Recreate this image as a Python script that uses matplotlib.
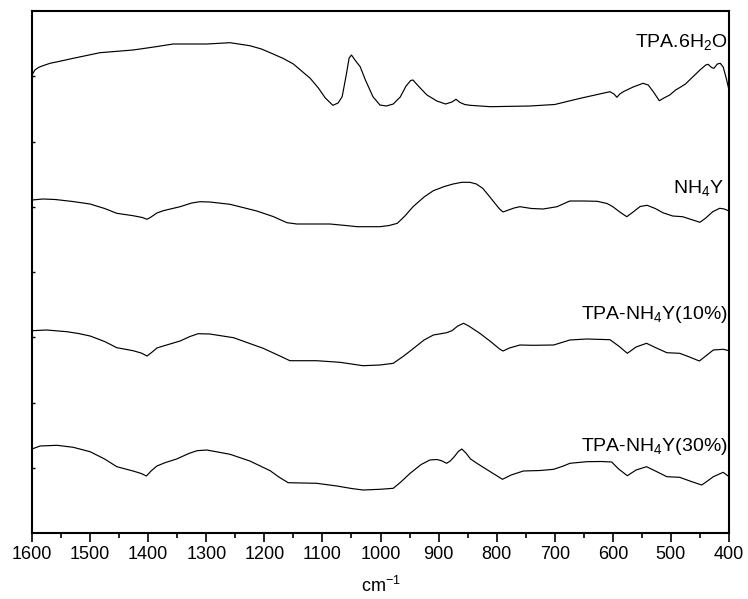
import matplotlib
matplotlib.use("Agg")
import matplotlib.pyplot as plt
from matplotlib.ticker import MultipleLocator

plt.rcParams['font.family'] = ['Liberation Sans', 'DejaVu Sans']
plt.rcParams['mathtext.fontset'] = 'custom'
plt.rcParams['mathtext.rm'] = 'Liberation Sans'
plt.rcParams['mathtext.it'] = 'Liberation Sans:italic'
plt.rcParams['mathtext.default'] = 'regular'

# ---- data: wavenumber (cm-1) and offset transmittance (arbitrary units) ----
wn_tpa = [1600, 1595, 1590, 1586, 1569, 1550, 1529, 1483, 1426, 1390,
          1357, 1299, 1259, 1225, 1205, 1190, 1168, 1150, 1121, 1107,
          1095, 1082, 1073, 1066, 1059, 1054, 1050, 1044, 1035, 1026,
          1013, 1001, 990, 978, 966, 956, 948, 944, 938, 930,
          920, 903, 888, 877, 870, 863, 855, 846, 811, 743,
          700, 656, 605, 598, 593, 588, 582, 565, 548, 539,
          530, 520, 512, 502, 492, 484, 475, 462, 450, 440,
          436, 430, 426, 420, 415, 410, 407, 404, 400]
y_tpa = [458, 463, 465, 466.3, 469.7, 472, 474.7, 480.3, 483, 486,
         489, 489, 490.3, 487.3, 484, 480.3, 474.7, 469, 454.7, 445,
         435, 427.7, 430, 436.3, 458, 475, 478, 473, 466.3, 453,
         436.3, 428, 427, 429, 436, 447, 452.5, 453, 449, 444,
         438, 432, 429, 431, 433.7, 430.5, 428.5, 427.7, 426.3, 427,
         428.5, 434.7, 441.3, 439, 435.7, 439, 441.3, 446, 449.7, 448,
         441, 432.3, 435, 438, 443, 445.7, 449, 456.3, 463, 468,
         468.7, 465.5, 464.7, 469, 469.7, 466, 459.7, 453, 443]

wn_nh4y = [1600, 1581, 1560, 1530, 1500, 1475, 1454, 1426, 1410, 1402,
           1395, 1385, 1374, 1345, 1325, 1311, 1294, 1259, 1213, 1185,
           1161, 1144, 1087, 1060, 1040, 1001, 985, 971, 958, 944,
           925, 909, 890, 875, 860, 846, 835, 824, 813, 803,
           795, 789, 782, 770, 760, 740, 720, 696, 680, 674,
           650, 627, 610, 600, 588, 576, 565, 553, 541, 527,
           514, 497, 480, 465, 450, 440, 428, 416, 408, 400]
y_nh4y = [333, 334, 333.5, 331.5, 329, 324.5, 319.7, 317.3, 315.5, 313.7,
          316, 320, 322.3, 326.3, 330, 331.3, 331, 328.7, 322, 316.5,
          310.3, 309, 309, 307.5, 306.3, 306.3, 307.5, 309.7, 317, 326.3,
          336, 342.3, 346.5, 349, 350.7, 350.7, 349, 344.7, 337, 329.7,
          324, 321, 322.5, 325, 326.3, 324.5, 324, 326.3, 330.5, 332,
          332, 331.7, 329.5, 326.3, 321, 316.3, 321, 326.5, 327.7, 324.5,
          320.3, 317, 316.3, 313.5, 310.7, 315, 321.3, 324.7, 324, 322]

wn_10 = [1600, 1575, 1540, 1520, 1500, 1475, 1454, 1426, 1412, 1402,
         1393, 1385, 1374, 1345, 1328, 1314, 1294, 1253, 1202, 1175,
         1156, 1110, 1070, 1030, 1001, 978, 960, 943, 925, 909,
         886, 877, 867, 857, 848, 829, 808, 795, 789, 778,
         760, 737, 702, 685, 674, 645, 605, 590, 575, 560,
         542, 525, 507, 485, 468, 451, 440, 427, 410, 400]
y_10 = [202.3, 203, 201.3, 199.5, 197, 191.5, 185.3, 182.3, 180, 177,
        181, 185, 187, 192, 196.5, 199.3, 199, 195.3, 184.7, 177.5,
        172.3, 172.3, 170.7, 167.3, 168, 169.7, 177, 184.7, 193, 198,
        200.3, 202.3, 207, 209.7, 207, 199.7, 190.3, 184, 182, 185,
        188, 187.7, 188, 191, 193, 194, 193.3, 187, 179.7, 186,
        189.7, 185, 180.3, 179.7, 176, 172, 177, 183, 183.7, 182.3]

wn_30 = [1600, 1586, 1557, 1529, 1500, 1475, 1454, 1426, 1412, 1403,
         1395, 1385, 1371, 1351, 1330, 1316, 1299, 1259, 1225, 1190,
         1175, 1159, 1110, 1075, 1050, 1030, 1001, 978, 965, 949,
         930, 915, 903, 895, 886, 880, 873, 866, 860, 853,
         845, 834, 811, 790, 775, 754, 725, 702, 685, 674,
         645, 620, 602, 590, 575, 560, 542, 525, 507, 485,
         465, 447, 437, 427, 410, 400]
y_30 = [84, 87, 87.7, 85.7, 81.3, 74, 66.3, 62, 59.5, 57,
        62, 67, 70.3, 74, 79.5, 82.3, 83, 78.7, 72, 62.3,
        56, 50.3, 49.7, 47, 44.5, 43, 43.7, 44.7, 51, 59.7,
        68.5, 73, 73.5, 72.3, 69.7, 72, 76.3, 81.5, 84, 80,
        74, 69.7, 61.3, 53.7, 58, 62, 62.5, 63.7, 67, 69.7,
        71.3, 71.5, 71, 64, 57.3, 63, 66.3, 61.5, 56.3, 55.7,
        51.5, 48, 52, 56.3, 60.7, 56.3]

labels = ["TPA.6H$_2$O", "NH$_4$Y", "TPA-NH$_4$Y(10%)", "TPA-NH$_4$Y(30%)"]
x_ticks = [1600, 1500, 1400, 1300, 1200, 1100, 1000, 900, 800, 700, 600, 500, 400]

series = [(wn_tpa, y_tpa), (wn_nh4y, y_nh4y), (wn_10, y_10), (wn_30, y_30)]
label_pos = [(403, 486.3), (409, 340.3), (403, 213.7), (403, 82.0)]

fig = plt.figure(figsize=(7.48, 5.99), dpi=100)
ax = fig.add_axes([32 / 748, (599 - 533) / 599, 697 / 748, 522 / 599])

for (wn, y), lab, (lx, ly) in zip(series, labels, label_pos):
    ax.plot(wn, y, color='black', lw=0.85, solid_joinstyle='round')
    ax.text(lx, ly, lab, ha='right', va='baseline', fontsize=14)

ymax = 522.0
ax.set_xlim(1600, 400)
ax.set_ylim(0, ymax)
ax.set_xticks(x_ticks)
ax.set_xticklabels([str(t) for t in x_ticks])
ax.xaxis.set_minor_locator(MultipleLocator(50))
ax.set_yticks([ymax * k / 8 for k in range(1, 8)])
ax.set_yticklabels([])

for s in ax.spines.values():
    s.set_linewidth(1.5)

ax.tick_params(axis='x', which='major', direction='out', length=6.5, width=1.2,
               labelsize=13, pad=3)
ax.tick_params(axis='x', which='minor', direction='out', length=3.5, width=1.2)
ax.tick_params(axis='y', which='major', direction='in', length=2.5, width=1.0)

ax.set_xlabel("cm$^{-1}$", fontsize=13)
ax.xaxis.set_label_coords(0.5, -0.083)

fig.savefig("out.png", dpi=100)
